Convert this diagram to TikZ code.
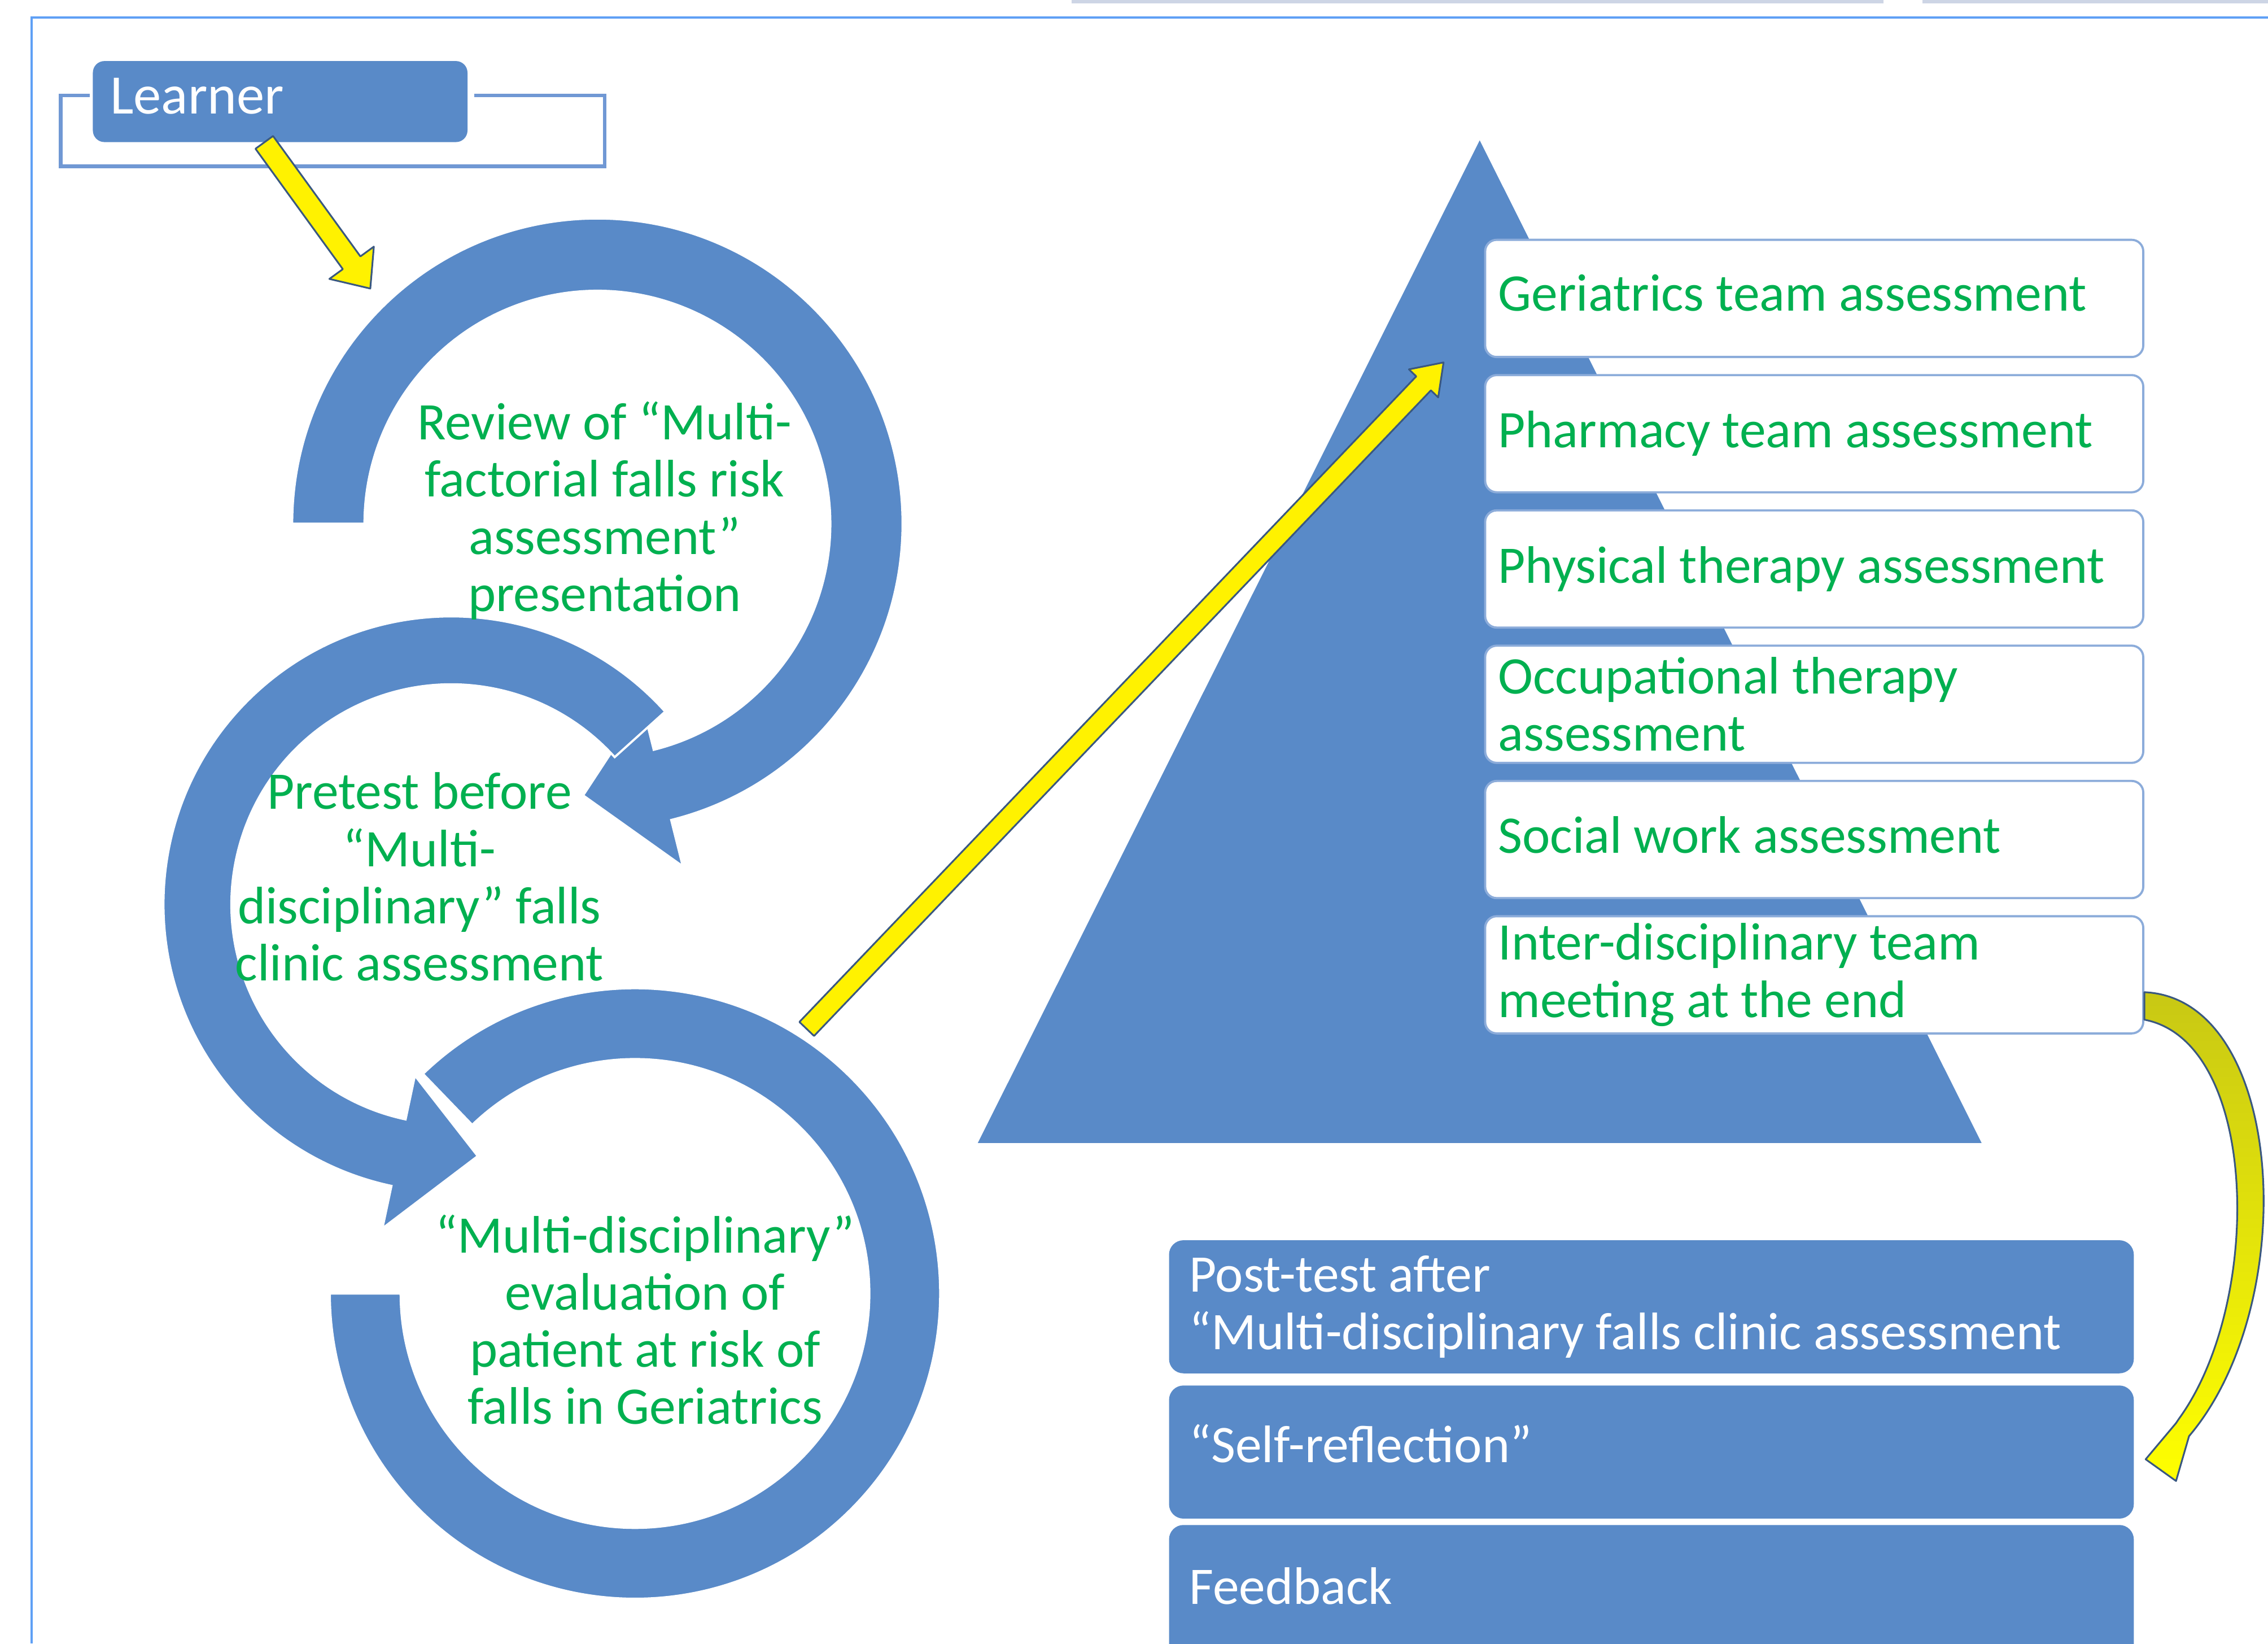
\documentclass[tikz,border=0pt]{standalone}
\usepackage{fontspec}
\setmainfont{Carlito}
\usepackage{tikz}
\usetikzlibrary{calc,positioning}

\definecolor{smartblue}{RGB}{89,138,200}
\definecolor{framelight}{RGB}{95,160,245}
\definecolor{bracketblue}{RGB}{112,152,212}
\definecolor{boxline}{RGB}{140,172,218}
\definecolor{textgreen}{RGB}{0,176,80}
\definecolor{arrowline}{RGB}{58,88,128}
\definecolor{topbar}{RGB}{205,213,229}
\definecolor{olive}{RGB}{200,200,20}

\newcommand{\diagfont}{\fontsize{36.5}{39.5}\selectfont}
\newcommand{\learnerfont}{\fontsize{38.5}{40}\selectfont}

\tikzset{
    learnerbox/.style={
            rectangle,
            fill=smartblue,
            rounded corners=8pt,
            text width=235pt,
            inner xsep=12pt,
            minimum height=56pt,
            text depth=8pt,
            align=flush left,
            text=white,
            font=\learnerfont
        },
    teambox/.style={
            rectangle,
            draw=boxline,
            fill=white,
            line width=1.5pt,
            rounded corners=8pt,
            text width=437pt,
            inner xsep=9pt,
            minimum height=81pt,
            align=flush left,
            text=textgreen,
            font=\diagfont
        },
    stepbox/.style={
            rectangle,
            fill=smartblue,
            rounded corners=10pt,
            text width=639pt,
            inner xsep=14pt,
            minimum height=92pt,
            align=flush left,
            text=white,
            font=\diagfont
        },
    ringtext/.style={
            align=center,
            text=textgreen,
            font=\diagfont
        },
    ring/.style={
            fill=smartblue,
            draw=white,
            line width=1.5pt
        },
    fatarrow/.style n args={3}{
            draw=arrowline,
            fill=yellow,
            line width=1.2pt,
            line join=round,
            to path={
                ($(\tikztostart)!#1!90:(\tikztotarget)$)
                -- ($(\tikztotarget)!#3!(\tikztostart)!#1!90:(\tikztotarget)$)
                -- ($(\tikztotarget)!#3!(\tikztostart)!#2!90:(\tikztotarget)$)
                -- (\tikztotarget)
                -- ($(\tikztotarget)!#3!(\tikztostart)!#2!-90:(\tikztotarget)$)
                -- ($(\tikztotarget)!#3!(\tikztostart)!#1!-90:(\tikztotarget)$)
                -- ($(\tikztostart)!#1!-90:(\tikztotarget)$)
                -- cycle
            }
        },
    bendarrow/.style={
            draw=arrowline,
            line width=1.2pt,
            line join=round,
            top color=olive,
            bottom color=yellow
        }
}

\begin{document}
\begin{tikzpicture}[x=1pt, y=1pt]
  \useasboundingbox (0,0) rectangle (1568,-1136);
  % page frame
  \fill[topbar] (741,0) rectangle (1302,-2.5);
  \fill[topbar] (1329,0) rectangle (1568,-2.5);
  \draw[framelight, line width=1.5pt] (1568,-12) -- (22,-12) -- (22,-1136);

  % learner
  \draw[bracketblue, line width=2.5pt] (62,-66) -- (42,-66) -- (42,-115) -- (418,-115) -- (418,-66) -- (328,-66);
  \node[learnerbox, anchor=north west] (learner) at (64,-42) {Learner};

  % cycle of three arrows
  \coordinate (rev) at (413,-362);
  \coordinate (pre) at (312,-625);
  \coordinate (eval) at (439,-894);
  \fill[ring, shift={(rev)}] (180:211) arc[start angle=180, end angle=-76, radius=211]
    -- (-76:244) -- (-93:188) -- (-76:129) -- (-76:161)
    arc[start angle=-76, end angle=180, radius=161] -- cycle;
  \filldraw[ring, shift={(pre)}] (42:199) arc[start angle=42, end angle=258, radius=199]
    -- (258:229) -- (276:175) -- (258:121) -- (258:152)
    arc[start angle=258, end angle=42, radius=152] -- cycle;
  \filldraw[ring, shift={(eval)}] (134:211) arc[start angle=134, end angle=-180, radius=211]
    -- (180:162) arc[start angle=-180, end angle=134, radius=162] -- cycle;

  \node[ringtext] (revtext) at (418,-353) {Review of “Multi-\\factorial falls risk\\assessment”\\presentation};
  \node[ringtext] (pretext) at (290,-606) {Pretest before\\“Multi-\\disciplinary” falls\\clinic assessment};
  \node[ringtext] (evaltext) at (446,-912) {“Multi-disciplinary”\\evaluation of\\patient at risk of\\falls in Geriatrics};

  % pyramid of team assessments
  \fill[smartblue] (1023,-97) -- (1370,-790) -- (676,-790) -- cycle;
  \node[teambox, anchor=north west, text depth=8pt] (geri) at (1026,-165) {Geriatrics team assessment};
  \node[teambox, below=11pt of geri] (pharm) {Pharmacy team assessment};
  \node[teambox, below=11pt of pharm] (phys) {Physical therapy assessment};
  \node[teambox, below=11pt of phys] (occ) {Occupational therapy\\assessment};
  \node[teambox, below=11pt of occ, text depth=7pt] (social) {Social work assessment};
  \node[teambox, below=11pt of social] (idt) {Inter-disciplinary team\\meeting at the end};

  % closing steps
  \node[stepbox, anchor=north west] (post) at (808,-857) {Post-test after\\“Multi-disciplinary falls clinic assessment};
  \node[stepbox, below=8pt of post, text depth=12pt] (self) {“Self-reflection”};
  \node[stepbox, below=4pt of self, text depth=8pt] (feedback) {Feedback};

  % yellow arrows
  \coordinate (learnerfoot) at ([xshift=-11pt]learner.south);
  \coordinate (revhit) at ($(rev)+(134:226)$);
  \coordinate (evalhit) at ($(eval)+(57:218)$);
  \coordinate (pyrhit) at ([shift={(-28pt,-3pt)}]geri.south west);
  \path[fatarrow={7.5pt}{19pt}{22pt}] (learnerfoot) to (revhit);
  \path[fatarrow={7pt}{14pt}{20pt}] (evalhit) to (pyrhit);
  \path[bendarrow] ([yshift=-12pt]idt.east) .. controls (1580,-690) and (1592,-900) .. ([shift={(38pt,11pt)}]self.east)
    -- ([shift={(29pt,-20pt)}]self.east) -- ([shift={(8pt,-5pt)}]self.east)
    -- ([shift={(29pt,20pt)}]self.east) -- ([shift={(31pt,23pt)}]self.east)
    .. controls (1565,-900) and (1562,-720) .. ([yshift=-31pt]idt.east) -- cycle;
\end{tikzpicture}
\end{document}
